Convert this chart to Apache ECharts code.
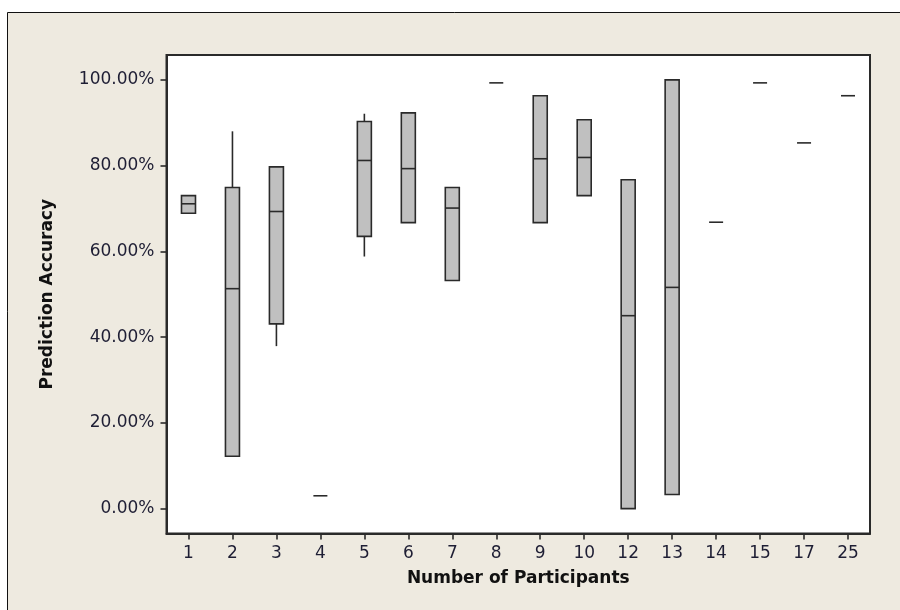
<!DOCTYPE html>
<html>
<head>
<meta charset="utf-8">
<title>Prediction Accuracy by Number of Participants</title>
<script src="https://cdn.jsdelivr.net/npm/echarts@6/dist/echarts.min.js"></script>
<style>
  html, body { margin: 0; padding: 0; background: #ffffff; }
  #chart { width: 900px; height: 610px; }
</style>
</head>
<body>
<div id="chart"></div>
<script>
// Group sizes on the x axis
const categories = ['1', '2', '3', '4', '5', '6', '7', '8', '9', '10', '12', '13', '14', '15', '17', '25'];

// Five-number summary of prediction accuracy (%) for each group
const lowWhisker  = [68.9, 12.2, 37.9,  3.0, 58.8, 66.7, 53.2, 99.3, 66.7, 73.0,  0.0,   3.3, 66.8, 99.3, 85.3, 96.3];
const q1          = [68.9, 12.2, 43.1,  3.0, 63.5, 66.7, 53.2, 99.3, 66.7, 73.0,  0.0,   3.3, 66.8, 99.3, 85.3, 96.3];
const median      = [71.1, 51.3, 69.3,  3.0, 81.2, 79.3, 70.1, 99.3, 81.6, 81.9, 45.0,  51.6, 66.8, 99.3, 85.3, 96.3];
const q3          = [73.0, 74.9, 79.7,  3.0, 90.3, 92.3, 74.9, 99.3, 96.3, 90.7, 76.7, 100.0, 66.8, 99.3, 85.3, 96.3];
const highWhisker = [73.0, 88.0, 79.7,  3.0, 92.1, 92.3, 74.9, 99.3, 96.3, 90.7, 76.7, 100.0, 66.8, 99.3, 85.3, 96.3];

// Tick values shown on the accuracy axis
const yTicks = [0, 20, 40, 60, 80, 100];

const boxData = categories.map((c, i) => [i, lowWhisker[i], q1[i], median[i], q3[i], highWhisker[i]]);

const LINE = '#2a2a2a';
const TEXT = '#1e1e34';
const FONT = 'DejaVu Sans';

function renderBox(params, api) {
  const idx = api.value(0);
  const pMin = api.coord([idx, api.value(1)]);
  const pQ1 = api.coord([idx, api.value(2)]);
  const pMed = api.coord([idx, api.value(3)]);
  const pQ3 = api.coord([idx, api.value(4)]);
  const pMax = api.coord([idx, api.value(5)]);
  const half = 7;
  const x = pMed[0];
  const children = [];
  if (pMax[1] < pQ3[1] - 0.5) {
    children.push({ type: 'line', shape: { x1: x, y1: pMax[1], x2: x, y2: pQ3[1] },
      style: { stroke: LINE, lineWidth: 1.6 } });
  }
  if (pMin[1] > pQ1[1] + 0.5) {
    children.push({ type: 'line', shape: { x1: x, y1: pQ1[1], x2: x, y2: pMin[1] },
      style: { stroke: LINE, lineWidth: 1.6 } });
  }
  if (pQ1[1] - pQ3[1] > 0.5) {
    children.push({ type: 'rect', shape: { x: x - half, y: pQ3[1], width: half * 2, height: pQ1[1] - pQ3[1] },
      style: { fill: '#c0c0c0', stroke: LINE, lineWidth: 1.6 } });
  }
  children.push({ type: 'line', shape: { x1: x - half, y1: pMed[1], x2: x + half, y2: pMed[1] },
    style: { stroke: LINE, lineWidth: 1.6 } });
  return { type: 'group', children: children };
}

const chart = echarts.init(document.getElementById('chart'), null, { renderer: 'canvas' });

chart.setOption({
  backgroundColor: '#ffffff',
  animation: false,
  graphic: [{
    type: 'rect',
    z: -10,
    silent: true,
    shape: { x: 7.5, y: 12.5, width: 900, height: 610 },
    style: { fill: '#eeeae0', stroke: '#111111', lineWidth: 1 }
  }],
  grid: {
    left: 166.5, top: 55, right: 30, bottom: 76.5,
    show: true, backgroundColor: '#ffffff', borderColor: LINE, borderWidth: 2,
    containLabel: false, outerBoundsMode: 'none'
  },
  xAxis: {
    type: 'category',
    data: categories,
    boundaryGap: true,
    name: 'Number of Participants',
    nameLocation: 'middle',
    nameGap: 37,
    nameTextStyle: { fontFamily: FONT, fontSize: 17, fontWeight: 'bold', color: '#111111' },
    axisLine: { show: true, onZero: false, lineStyle: { color: LINE, width: 2 } },
    axisTick: { show: true, alignWithLabel: true, length: 6, lineStyle: { color: LINE, width: 1.6 } },
    axisLabel: { margin: 12, fontFamily: FONT, fontSize: 17, color: TEXT, interval: 0 },
    splitLine: { show: false }
  },
  yAxis: {
    type: 'value',
    min: -5.8,
    max: 105.8,
    name: 'Prediction Accuracy',
    nameLocation: 'middle',
    nameRotate: 90,
    nameGap: 110,
    nameTextStyle: { fontFamily: FONT, fontSize: 17, fontWeight: 'bold', color: '#111111' },
    axisLine: { show: true, onZero: false, lineStyle: { color: LINE, width: 2 } },
    axisTick: { show: true, length: 6, customValues: yTicks, lineStyle: { color: LINE, width: 1.6 } },
    axisLabel: {
      margin: 12, fontFamily: FONT, fontSize: 17, color: TEXT,
      customValues: yTicks,
      formatter: v => v.toFixed(2) + '%'
    },
    splitLine: { show: false }
  },
  series: [{
    type: 'custom',
    renderItem: renderBox,
    encode: { x: 0, y: [1, 2, 3, 4, 5] },
    data: boxData,
    z: 5
  }]
});
</script>
</body>
</html>
